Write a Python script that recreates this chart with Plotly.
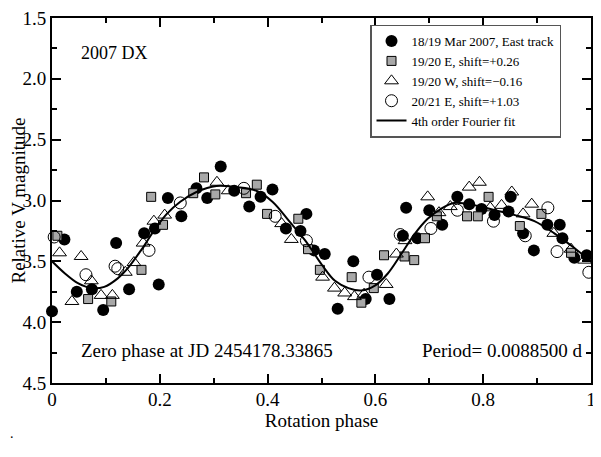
import plotly.graph_objects as go

# 18/19 Mar 2007, East track (filled circles)
east_x = [0.000, 0.023, 0.046, 0.074, 0.095, 0.119, 0.143, 0.171, 0.191, 0.198,
          0.215, 0.240, 0.268, 0.288, 0.313, 0.338, 0.366, 0.387, 0.409, 0.434,
          0.461, 0.472, 0.486, 0.506, 0.530, 0.559, 0.582, 0.603, 0.626, 0.651,
          0.657, 0.678, 0.700, 0.724, 0.752, 0.774, 0.797, 0.821, 0.847, 0.851,
          0.874, 0.894, 0.919, 0.942, 0.947, 0.969, 0.992]
east_y = [3.91, 3.32, 3.75, 3.73, 3.90, 3.35, 3.73, 3.27, 3.23, 3.69,
          2.98, 3.13, 2.90, 2.98, 2.72, 2.92, 3.05, 2.97, 2.91, 3.23,
          3.25, 3.11, 3.41, 3.44, 3.89, 3.50, 3.81, 3.61, 3.81, 3.29,
          3.06, 3.31, 3.08, 3.20, 2.97, 3.03, 3.07, 3.12, 3.09, 2.97,
          3.27, 3.41, 3.20, 3.20, 3.31, 3.47, 3.45]

# 19/20 E, shift=+0.26 (stippled squares)
e1920_x = [0.010, 0.067, 0.110, 0.166, 0.184, 0.206, 0.262, 0.282, 0.303, 0.360,
           0.380, 0.399, 0.457, 0.475, 0.497, 0.556, 0.574, 0.597, 0.616, 0.654,
           0.672, 0.692, 0.714, 0.770, 0.790, 0.810, 0.868, 0.908, 0.963]
e1920_y = [3.29, 3.81, 3.83, 3.57, 2.97, 3.20, 2.94, 2.81, 2.95, 2.94,
           2.87, 3.11, 3.15, 3.40, 3.57, 3.63, 3.84, 3.72, 3.45, 3.46,
           3.49, 3.31, 3.13, 3.13, 3.13, 2.97, 3.21, 3.11, 3.43]

# 19/20 W, shift=-0.16 (open triangles)
w1920_x = [0.014, 0.037, 0.054, 0.073, 0.091, 0.112, 0.136, 0.152, 0.169, 0.189,
           0.209, 0.306, 0.327, 0.426, 0.444, 0.502, 0.524, 0.543, 0.561, 0.579,
           0.620, 0.639, 0.655, 0.697, 0.718, 0.739, 0.774, 0.793, 0.813, 0.834,
           0.853, 0.874, 0.890, 0.931, 0.963, 0.988]
w1920_y = [3.43, 3.83, 3.46, 3.66, 3.78, 3.78, 3.59, 3.51, 3.35, 3.17,
           3.12, 2.85, 2.92, 3.19, 3.32, 3.63, 3.72, 3.76, 3.79, 3.77,
           3.69, 3.44, 3.33, 2.97, 3.10, 3.05, 2.89, 2.85, 3.06, 3.04,
           2.93, 3.11, 3.03, 3.27, 3.40, 3.49]

# 20/21 E, shift=+1.03 (open circles)
e2021_x = [0.004, 0.063, 0.117, 0.122, 0.180, 0.238, 0.356, 0.414, 0.472, 0.588,
           0.646, 0.703, 0.752, 0.819, 0.878, 0.920, 0.937, 0.996]
e2021_y = [3.30, 3.61, 3.54, 3.56, 3.41, 3.02, 2.90, 3.13, 3.33, 3.63,
           3.28, 3.23, 3.08, 3.17, 3.29, 3.06, 3.42, 3.59]

# 4th order Fourier fit
fit_x = [0.000, 0.024, 0.048, 0.073, 0.097, 0.122, 0.140, 0.165, 0.189, 0.213,
         0.238, 0.268, 0.305, 0.342, 0.379, 0.409, 0.440, 0.470, 0.501, 0.525,
         0.550, 0.574, 0.599, 0.623, 0.648, 0.672, 0.697, 0.721, 0.746, 0.785,
         0.822, 0.859, 0.895, 0.932, 0.963, 1.000]
fit_y = [3.50, 3.60, 3.68, 3.72, 3.71, 3.64, 3.56, 3.41, 3.25, 3.11,
         3.01, 2.93, 2.88, 2.89, 2.92, 3.01, 3.17, 3.33, 3.53, 3.66,
         3.72, 3.74, 3.70, 3.60, 3.44, 3.28, 3.15, 3.07, 3.02, 3.04,
         3.08, 3.12, 3.17, 3.27, 3.37, 3.50]

x_ticks = [0, 0.2, 0.4, 0.6, 0.8, 1.0]
x_labels = ['0', '0.2', '0.4', '0.6', '0.8', '1']
x_minor = [0.1, 0.3, 0.5, 0.7, 0.9]
y_ticks = [1.5, 2.0, 2.5, 3.0, 3.5, 4.0, 4.5]
y_labels = ['1.5', '2.0', '2.5', '3.0', '3.5', '4.0', '4.5']
y_minor = [1.75, 2.25, 2.75, 3.25, 3.75, 4.25]

FONT = "Liberation Serif"

fig = go.Figure()

fig.add_trace(go.Scatter(
    x=east_x, y=east_y, mode='markers', name='18/19 Mar 2007, East track',
    marker=dict(symbol='circle', size=12, color='black', line=dict(width=0)),
    cliponaxis=False
))
fig.add_trace(go.Scatter(
    x=e1920_x, y=e1920_y, mode='markers', name='19/20 E, shift=+0.26',
    marker=dict(symbol='square', size=9, color='#a8a8a8', line=dict(color='black', width=1)),
    cliponaxis=False
))
fig.add_trace(go.Scatter(
    x=w1920_x, y=w1920_y, mode='markers', name='19/20 W, shift=\u22120.16',
    marker=dict(symbol='triangle-up-open', size=12, color='black', line=dict(width=1)),
    cliponaxis=False
))
fig.add_trace(go.Scatter(
    x=e2021_x, y=e2021_y, mode='markers', name='20/21 E, shift=+1.03',
    marker=dict(symbol='circle-open', size=12, color='black', line=dict(width=1)),
    cliponaxis=False
))
fig.add_trace(go.Scatter(
    x=fit_x, y=fit_y, mode='lines', name='4th order Fourier fit',
    line=dict(color='black', width=2, shape='spline')
))

fig.add_annotation(x=0.116, y=1.79, xref='x', yref='y', text='2007 DX', showarrow=False,
                   font=dict(family=FONT, size=18, color='black'))
fig.add_annotation(x=0.05, y=4.23, xref='x', yref='y', xanchor='left',
                   text='Zero phase at JD 2454178.33865', showarrow=False,
                   font=dict(family=FONT, size=19, color='black'))
fig.add_annotation(x=0.988, y=4.23, xref='x', yref='y', xanchor='right',
                   text='Period= 0.0088500 d', showarrow=False,
                   font=dict(family=FONT, size=19, color='black'))
fig.add_annotation(x=-0.081, y=-0.165, xref='paper', yref='paper', xanchor='left',
                   text='.', showarrow=False, font=dict(family=FONT, size=14, color='black'))

axis_common = dict(
    showgrid=False, zeroline=False, showline=True, linecolor='black', linewidth=2,
    mirror='ticks', ticks='inside', ticklen=9, tickwidth=2, tickcolor='black',
    tickfont=dict(family=FONT, size=19, color='black'), automargin=False,
    tickmode='array', ticklabeloverflow='allow',
)

fig.update_xaxes(
    range=[0, 1], tickvals=x_ticks, ticktext=x_labels,
    minor=dict(tickvals=x_minor, ticks='inside', ticklen=5, tickwidth=2, tickcolor='black'),
    title=dict(text='Rotation phase', font=dict(family=FONT, size=19, color='black'), standoff=0),
    ticklabelstandoff=-2,
    **axis_common
)
fig.update_yaxes(
    range=[4.5, 1.5], tickvals=y_ticks, ticktext=y_labels,
    minor=dict(tickvals=y_minor, ticks='inside', ticklen=5, tickwidth=2, tickcolor='black'),
    title=dict(text='Relative V magnitude', font=dict(family=FONT, size=19, color='black'), standoff=8),
    **axis_common
)

# the page puts the figure 8px in from the top-left corner
fig.update_layout(
    width=593, height=441,
    margin=dict(l=44, r=10, t=10, b=66),
    paper_bgcolor='white', plot_bgcolor='white',
    font=dict(family=FONT, color='black'),
    legend=dict(
        x=0.59, y=0.982, xanchor='left', yanchor='top',
        bgcolor='white', bordercolor='#555555', borderwidth=1.5,
        font=dict(family=FONT, size=13, color='black'),
        tracegroupgap=0, itemwidth=30
    ),
    showlegend=True
)

fig.write_html("out.html")
